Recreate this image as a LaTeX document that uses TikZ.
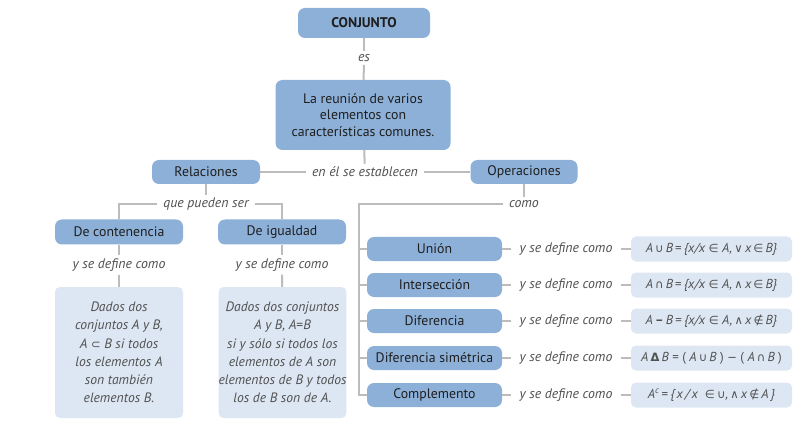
\documentclass[tikz,border=0pt]{standalone}
\usepackage{fontspec}
\setmainfont{PT Sans}
\newfontfamily\symfont{DejaVu Sans}
\definecolor{boxblue}{RGB}{141,176,216}
\definecolor{lightblue}{RGB}{221,231,243}
\definecolor{linegray}{RGB}{188,188,188}
\definecolor{labelgray}{RGB}{80,80,80}
\definecolor{boxtext}{RGB}{30,30,30}
\newcommand\sy[1]{{\symfont\upshape\fontsize{11.5}{12}\selectfont #1}}
\begin{document}
\begin{tikzpicture}[x=1pt,y=-1pt,
  mainbox/.style={fill=boxblue, rounded corners=7pt, text=boxtext, align=center, inner sep=0pt,
    font=\fontsize{13.8}{15}\selectfont},
  defbox/.style={fill=lightblue, rounded corners=5pt, text=labelgray, align=center, inner sep=0pt,
    font=\fontsize{13.6}{18.3}\selectfont\itshape},
  formbox/.style={fill=lightblue, rounded corners=5pt, text=labelgray, inner sep=0pt,
    minimum width=161, minimum height=25, font=\fontsize{13}{14}\selectfont\itshape},
  lbl/.style={text=labelgray, font=\fontsize{13.8}{15}\selectfont\itshape, inner xsep=6pt, inner ysep=3pt},
  opbox/.style={mainbox, minimum width=135, minimum height=24},
  conn/.style={draw=linegray, line width=2pt}
]
\useasboundingbox[fill=white] (0,0) rectangle (805,446);

% top
\node[mainbox, minimum width=132, minimum height=30, font=\fontsize{14}{16}\selectfont\bfseries] (conj) at (364,23) {CONJUNTO};
\node[lbl] (es) at (364,58) {es};
\node[mainbox, minimum width=175, minimum height=70, font=\fontsize{13.8}{16.5}\selectfont] (reu) at (363,115) {La reunión de varios\\elementos con\\características comunes.};
\node[lbl] (est) at (365,172) {en él se establecen};
\node[mainbox, minimum width=108, minimum height=24] (rel) at (206,172) {Relaciones};
\node[mainbox, minimum width=107, minimum height=24] (ope) at (524,172) {Operaciones};

\draw[conn] (conj) -- (es);
\draw[conn] (es) -- (reu);
\draw[conn] (reu) -- (est);
\draw[conn] (rel) -- (est);
\draw[conn] (est) -- (ope);

% relaciones
\node[lbl] (qps) at (206,204) {que pueden ser};
\node[mainbox, minimum width=128, minimum height=25] (cont) at (119,232) {De contenencia};
\node[mainbox, minimum width=128, minimum height=25] (igu) at (282,232) {De igualdad};
\draw[conn] (rel) -- (qps);
\draw[conn] (qps.west) -| (cont.north);
\draw[conn] (qps.east) -| (igu.north);

\node[lbl] (ydc1) at (119,265) {y se define como};
\node[lbl] (ydc2) at (282,265) {y se define como};
\node[defbox, minimum width=128, minimum height=131] (def1) at (119,352.5)
  {Dados dos\\conjuntos A y B,\\A \sy{⊂} B si todos\\los elementos A\\son también\\elementos B.};
\node[defbox, minimum width=127, minimum height=131] (def2) at (282.5,352.5)
  {Dados dos conjuntos\\A y B, A{\upshape =}B\\si y sólo si todos los\\elementos de A son\\elementos de B y todos\\los de B son de A.};
\draw[conn] (cont) -- (ydc1);
\draw[conn] (ydc1) -- (def1);
\draw[conn] (igu) -- (ydc2);
\draw[conn] (ydc2) -- (def2);

% operaciones
\node[lbl] (como) at (524,204) {como};
\draw[conn] (ope) -- (como);
\coordinate (tl) at (359,204);

\node[opbox] (uni) at (434.5,249) {Unión};
\node[opbox] (int) at (434.5,285) {Intersección};
\node[opbox] (dif) at (434.5,321) {Diferencia};
\node[opbox] (dsi) at (434.5,358) {Diferencia simétrica};
\node[opbox] (com) at (434.5,395) {Complemento};

\draw[conn] (como.west) -- (tl) -- (tl |- com.west) -- (com.west);
\foreach \n in {uni,int,dif,dsi} { \draw[conn] (tl |- \n.west) -- (\n.west); }

\foreach \n/\y in {uni/249,int/285,dif/321,dsi/358,com/395} {
  \node[lbl, inner xsep=8pt] (y\n) at (566,\y) {y se define como};
}

\node[formbox] (f1) at (711.5,249) {A\,\sy{∪}\,B\,{\upshape =}\,\{x/x \sy{∈} A,\,\sy{∨}\,x\,\sy{∈}\,B\}};
\node[formbox] (f2) at (711.5,285) {A\,\sy{∩}\,B\,{\upshape =}\,\{x/x \sy{∈} A,\,\sy{∧}\,x\,\sy{∈}\,B\}};
\node[formbox] (f3) at (711.5,321) {A\,\textbf{\upshape –}\,B\,{\upshape =}\,\{x/x \sy{∈} A,\,\sy{∧}\,x\,\sy{∉}\,B\}};
\node[formbox] (f4) at (711.5,358) {A\,\sy{\textbf{Δ}}\,B {\upshape =} {\upshape (} A\,\sy{∪}\,B {\upshape )} \sy{−} {\upshape (} A\,\sy{∩}\,B {\upshape )}};
\node[formbox] (f5) at (711.5,395) {A\textsuperscript{c}\,{\upshape =}\,\{\,x\,/\,x \ \sy{∈}\,\sy{∪},\,\sy{∧}\,x\,\sy{∉}\,A\,\}};

\foreach \n/\f in {uni/f1,int/f2,dif/f3,dsi/f4,com/f5} {
  \draw[conn] (\n) -- (y\n);
  \draw[conn] (y\n) -- (\f);
}
\end{tikzpicture}
\end{document}
